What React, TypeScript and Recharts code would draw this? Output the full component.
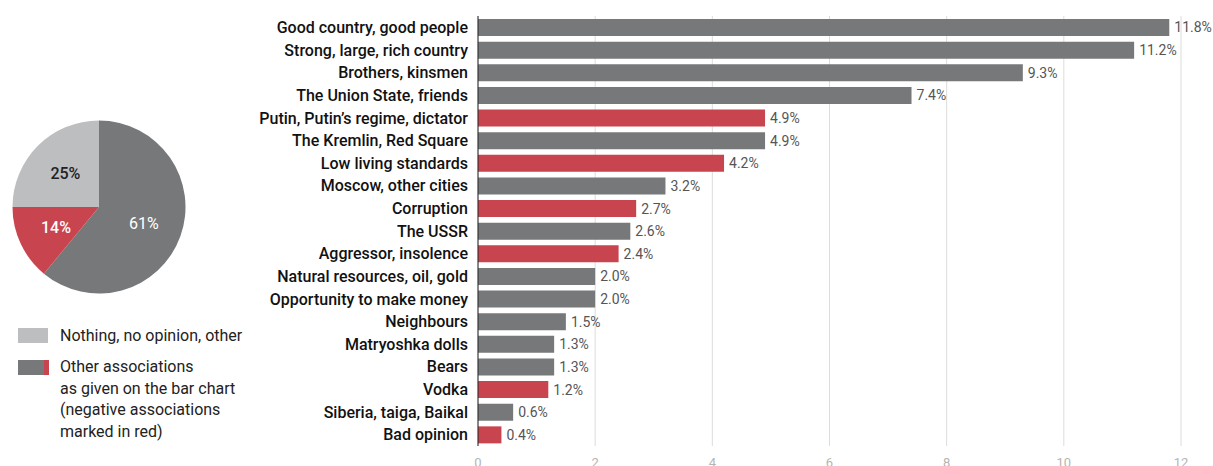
import React from 'react';
import { BarChart, Bar, XAxis, YAxis, CartesianGrid, Cell, LabelList, PieChart, Pie } from 'recharts';

const categories = [
    'Good country, good people',
    'Strong, large, rich country',
    'Brothers, kinsmen',
    'The Union State, friends',
    'Putin, Putin\u2019s regime, dictator',
    'The Kremlin, Red Square',
    'Low living standards',
    'Moscow, other cities',
    'Corruption',
    'The USSR',
    'Aggressor, insolence',
    'Natural resources, oil, gold',
    'Opportunity to make money',
    'Neighbours',
    'Matryoshka dolls',
    'Bears',
    'Vodka',
    'Siberia, taiga, Baikal',
    'Bad opinion',
];
const values = [11.8, 11.2, 9.3, 7.4, 4.9, 4.9, 4.2, 3.2, 2.7, 2.6, 2.4, 2.0, 2.0, 1.5, 1.3, 1.3, 1.2, 0.6, 0.4];
const negative = [false, false, false, false, true, false, true, false, true, false, true, false, false, false, false, false, true, false, true];
const xTicks = [0, 2, 4, 6, 8, 10, 12];

const pieNames = ['Other associations', 'Negative associations', 'Nothing, no opinion, other'];
const pieValues = [61, 14, 25];

const GRAY = '#77787a';
const RED = '#c8444e';
const LIGHT = '#bdbec0';
const pieColors = [GRAY, RED, LIGHT];
const pieTextColors = ['#ffffff', '#ffffff', '#222222'];

const barData = categories.map((name, i) => ({ name, value: values[i], negative: negative[i] }));
const pieData = pieNames.map((name, i) => ({ name, value: pieValues[i] }));

const RAD = Math.PI / 180;

// labels sit a bit past half the radius
const renderPieLabel = (props: any) => {
    const { cx, cy, midAngle, outerRadius, index, value } = props;
    const r = outerRadius * 0.55;
    const x = cx + r * Math.cos(-midAngle * RAD);
    const y = cy + r * Math.sin(-midAngle * RAD);
    return (
        <text
            x={x}
            y={y}
            fill={pieTextColors[index]}
            textAnchor="middle"
            dominantBaseline="central"
            fontSize={16}
            fontWeight={index === 0 ? 400 : 500}
            fontFamily="Roboto"
        >
            {value}%
        </text>
    );
};

const legendText: React.CSSProperties = {
    position: 'absolute',
    left: 60,
    fontFamily: 'Roboto',
    fontSize: 16,
    lineHeight: '21.5px',
    color: '#222',
};

export default function App() {
    return (
        <div style={{ position: 'absolute', left: 0, top: 0, width: 1213, height: 466, overflow: 'hidden', background: '#fff' }}>
            <div style={{ position: 'absolute', left: 0, top: 0 }}>
                <BarChart
                    width={1213}
                    height={466}
                    data={barData}
                    layout="vertical"
                    margin={{ top: 16, right: 32, bottom: 0, left: 0 }}
                    barSize={17}
                >
                    <CartesianGrid horizontal={false} stroke="#dcdcdc" />
                    <XAxis
                        type="number"
                        domain={[0, 12]}
                        ticks={xTicks}
                        height={20}
                        axisLine={false}
                        tickLine={false}
                        tickSize={0}
                        tickMargin={12}
                        tick={{ fill: '#b5b5b5', fontSize: 13, fontFamily: 'Roboto' }}
                    />
                    <YAxis
                        type="category"
                        dataKey="name"
                        width={478}
                        axisLine={{ stroke: '#222' }}
                        tickLine={false}
                        tickSize={0}
                        tickMargin={10}
                        interval={0}
                        tick={{ fill: '#111', fontSize: 16, fontWeight: 500, fontFamily: 'Roboto' }}
                    />
                    <Bar dataKey="value" isAnimationActive={false}>
                        {barData.map((d, i) => (
                            <Cell key={i} fill={d.negative ? RED : GRAY} />
                        ))}
                        <LabelList
                            dataKey="value"
                            position="right"
                            offset={5}
                            formatter={(v: any) => `${Number(v).toFixed(1)}%`}
                            style={{ fill: '#555', fontSize: 14, fontFamily: 'Roboto' }}
                        />
                    </Bar>
                </BarChart>
            </div>

            <div style={{ position: 'absolute', left: 0, top: 107 }}>
                <PieChart width={200} height={200} margin={{ top: 0, right: 0, bottom: 0, left: 0 }}>
                    <Pie
                        data={pieData}
                        dataKey="value"
                        cx={99}
                        cy={100}
                        outerRadius={86.5}
                        startAngle={90}
                        endAngle={-270}
                        stroke="none"
                        labelLine={false}
                        label={renderPieLabel}
                        isAnimationActive={false}
                    >
                        {pieData.map((d, i) => (
                            <Cell key={i} fill={pieColors[i]} />
                        ))}
                    </Pie>
                </PieChart>
            </div>

            <div style={{ position: 'absolute', left: 18, top: 328, width: 30, height: 15, background: LIGHT }} />
            <div style={{ ...legendText, top: 325 }}>Nothing, no opinion, other</div>

            <div style={{ position: 'absolute', left: 18, top: 360, width: 26, height: 15, background: GRAY }} />
            <div style={{ position: 'absolute', left: 44, top: 360, width: 5, height: 15, background: RED }} />
            <div style={{ ...legendText, top: 356 }}>
                Other associations
                <br />
                as given on the bar chart
                <br />
                (negative associations
                <br />
                marked in red)
            </div>
        </div>
    );
}
